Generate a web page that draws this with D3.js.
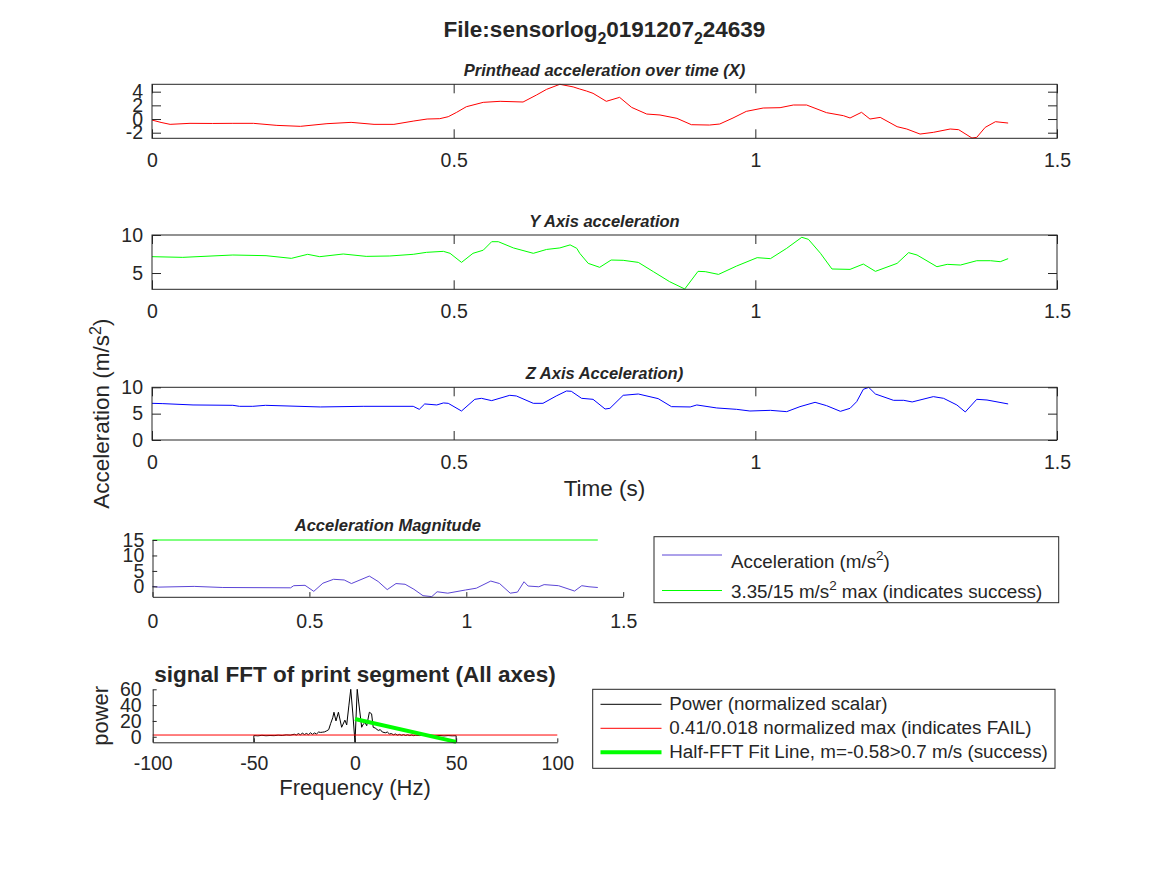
<!DOCTYPE html>
<html><head><meta charset="utf-8">
<script src="https://cdn.jsdelivr.net/npm/d3@7"></script>
<style>
body{margin:0;background:#fff}
svg{display:block}
text{font-family:"Liberation Sans",Arial,Helvetica,sans-serif;fill:#262626}
</style>
</head><body>
<svg id="c" width="1167" height="875"></svg>
<script>
// ---------- DATA ----------
const xTime = [0,0.015,0.03,0.063,0.10,0.134,0.168,0.207,0.246,0.29,0.33,0.368,0.401,0.434,0.456,0.477,0.491,0.505,0.521,0.549,0.577,0.615,0.637,0.654,0.676,0.698,0.709,0.72,0.731,0.753,0.775,0.795,0.82,0.842,0.87,0.894,0.924,0.941,0.963,0.985,1.013,1.041,1.063,1.085,1.118,1.146,1.157,1.176,1.19,1.207,1.235,1.251,1.273,1.295,1.323,1.337,1.359,1.367,1.381,1.398,1.419];
const xAccel = [-0.15,-0.5,-0.78,-0.63,-0.65,-0.63,-0.63,-0.93,-1.07,-0.68,-0.49,-0.78,-0.78,-0.29,0,0.05,0.34,0.98,1.8,2.44,2.59,2.49,3.5,4.34,5.08,4.7,4.39,4.1,3.76,2.59,3.17,1.7,0.73,0.59,0.1,-0.83,-0.88,-0.73,0.15,1.12,1.61,1.66,2.05,2.05,0.93,0.49,0.15,0.98,0,0.24,-1.12,-1.46,-2.2,-1.95,-1.46,-1.56,-2.78,-2.68,-1.22,-0.39,-0.59];

const yTime = [0,0.051,0.134,0.189,0.231,0.258,0.278,0.317,0.355,0.394,0.433,0.455,0.483,0.494,0.513,0.532,0.549,0.563,0.574,0.599,0.632,0.654,0.676,0.693,0.704,0.709,0.723,0.742,0.761,0.781,0.806,0.831,0.858,0.883,0.905,0.917,0.939,0.969,1.003,1.025,1.052,1.077,1.088,1.108,1.127,1.157,1.179,1.199,1.235,1.254,1.268,1.301,1.318,1.340,1.367,1.390,1.406,1.419];
const yAccel = [7.15,7.06,7.37,7.28,6.93,7.46,7.15,7.5,7.19,7.24,7.46,7.72,7.85,7.59,6.4,7.59,8.0,9.12,9.12,8.3,7.59,8.1,8.3,8.7,8.25,7.59,6.27,5.75,6.71,6.67,6.4,5.18,3.86,2.9,5.22,5.18,4.82,5.92,7.02,6.89,8.25,9.7,9.43,7.59,5.53,5.48,6.18,5.22,6.27,7.68,7.37,5.83,6.14,6.05,6.62,6.62,6.49,6.89];

const zTime = [0,0.018,0.068,0.134,0.145,0.167,0.188,0.279,0.35,0.433,0.443,0.452,0.472,0.483,0.491,0.513,0.535,0.546,0.563,0.593,0.604,0.632,0.648,0.670,0.687,0.695,0.712,0.731,0.751,0.759,0.781,0.806,0.839,0.861,0.892,0.903,0.936,0.969,0.991,1.025,1.052,1.074,1.099,1.118,1.141,1.157,1.168,1.179,1.188,1.199,1.229,1.246,1.260,1.295,1.312,1.334,1.348,1.367,1.384,1.419];
const zAccel = [6.96,6.9,6.65,6.58,6.39,6.39,6.58,6.27,6.39,6.39,5.82,6.84,6.65,7.03,6.96,5.5,7.72,7.91,7.47,8.48,8.35,6.96,6.96,8.35,9.3,9.24,7.91,7.72,5.88,6.01,8.48,8.73,7.85,6.33,6.27,6.65,6.08,5.82,5.5,5.63,5.38,6.33,7.15,6.52,5.44,6.01,7.28,9.62,9.98,8.73,7.53,7.53,7.22,8.23,7.91,6.65,5.32,7.72,7.59,6.84];

const magTime = [0,0.019,0.133,0.224,0.44,0.45,0.486,0.514,0.543,0.577,0.611,0.634,0.691,0.719,0.748,0.776,0.805,0.833,0.862,0.89,0.907,0.941,0.998,1.032,1.078,1.106,1.14,1.163,1.184,1.197,1.231,1.248,1.294,1.345,1.368,1.391,1.419];
const magAccel = [0,-0.23,0,-0.35,-0.46,0.23,0.35,-1.6,1.04,2.3,2.08,0.92,3.34,1.6,-1.04,0.92,0.69,-0.92,-3.0,-3.3,-1.73,-2.19,-1.15,-0.58,1.73,0.92,-2.19,-1.85,1.5,0.12,-0.12,0.58,0.23,-1.5,0.23,-0.12,-0.35];
const magLimitTime = [0,1.419];
const magLimit = [15,15];

const fftFreq = [-50,-50,-48,-46,-44,-42,-40,-38,-36,-34,-32,-30,-29,-28,-27,-26,-25,-24,-23,-22,-21,-20,-19,-18,-17,-16,-15,-14,-13,-12,-11,-10.4,-9.4,-8.2,-6.6,-5,-4.1,-3,-2.1,-1.1,0,1.1,1.8,3.3,4.1,4.9,5.8,7.1,8.2,9,10,11.5,12.5,13.5,15,16,17,18,19,20,21,22,23,24,25,26,27,28,29,30,32,34,36,38,40,42,44,46,48,50,50];
const fftPower = [-7,1.5,1.2,1.8,1.3,1.6,1.4,2.0,1.6,2.4,2.0,3.2,2.2,4.0,2.5,4.5,2.8,4.2,2.6,5.0,3.0,4.8,3.5,6.0,5.5,5.8,6.2,7.5,9,17,24,31,20,31,12,21,15,40,60,30,-7,60,44,12,16,18,14,31,29,12,11,8,9,6,5,6,3.5,4,2.5,3.5,2,3,1.8,2.8,1.6,2.5,1.5,2.2,1.4,2.0,1.5,2.0,1.3,1.7,1.2,1.6,1.1,1.5,1.2,1.3,-7];
const thrFreq = [-100,100];
const thrPower = [2.2,2.2];
const fitFreq = [0,50];
const fitPower = [22.5,-6.5];

const timeTicks = [0,0.5,1,1.5];
const xTicksY = [-2,0,2,4];
const yTicksY = [5,10];
const zTicksY = [0,5,10];
const magTicksY = [0,5,10,15];
const fftTicksX = [-100,-50,0,50,100];
const fftTicksY = [0,20,40,60];

// ---------- DRAW ----------
const svg = d3.select("#c");
const FONT = '"Liberation Sans",Arial,Helvetica,sans-serif';
const INK = "#262626";

function styleAxis(sel, size){
  sel.attr("font-family", FONT).attr("font-size", size);
  sel.selectAll("line").attr("stroke", INK);
  sel.selectAll("path").attr("stroke", INK);
  sel.selectAll("text").attr("fill", INK);
}

function panel(o){
  const g = svg.append("g");
  const x = d3.scaleLinear().domain(o.xd).range([o.l, o.r]);
  const y = d3.scaleLinear().domain(o.yd).range([o.b, o.t]);
  o.series.forEach(s => {
    g.append("path").datum(d3.zip(s.x, s.y))
      .attr("fill","none").attr("stroke", s.c).attr("stroke-width", s.w || 1)
      .attr("stroke-linejoin","round")
      .attr("d", d3.line().x(d => x(d[0])).y(d => y(d[1])));
  });
  const fmt = d => String(d);
  const ax = g.append("g").attr("transform", `translate(0,${o.b})`)
    .call(d3.axisBottom(x).tickValues(o.xt).tickSize(-o.tl).tickSizeOuter(0).tickPadding(o.xpad).tickFormat(fmt));
  styleAxis(ax, 19.5);
  const ay = g.append("g").attr("transform", `translate(${o.l},0)`)
    .call(d3.axisLeft(y).tickValues(o.yt).tickSize(-o.tl).tickSizeOuter(0).tickPadding(o.ypad).tickFormat(fmt));
  styleAxis(ay, 19.5);
  if (o.box){
    ax.select(".domain").remove();
    ay.select(".domain").remove();
    const at = g.append("g").attr("transform", `translate(0,${o.t})`)
      .call(d3.axisTop(x).tickValues(o.xt).tickSize(-o.tl).tickSizeOuter(0).tickFormat(""));
    at.select(".domain").remove();
    styleAxis(at, 19.5);
    const ar = g.append("g").attr("transform", `translate(${o.r},0)`)
      .call(d3.axisRight(y).tickValues(o.yt).tickSize(-o.tl).tickSizeOuter(0).tickFormat(""));
    ar.select(".domain").remove();
    styleAxis(ar, 19.5);
    g.append("rect").attr("x", o.l).attr("y", o.t).attr("width", o.r - o.l).attr("height", o.b - o.t)
      .attr("fill","none").attr("stroke", INK).attr("stroke-width", 1);
  }
  if (o.title){
    g.append("text").attr("x", (o.l + o.r) / 2).attr("y", o.titleY)
      .attr("text-anchor","middle").attr("font-weight","bold")
      .attr("font-style", o.titleItalic ? "italic" : "normal")
      .attr("font-size", o.titleSize).text(o.title);
  }
  return {x, y};
}

// Main title with TeX-like subscripts
const mt = svg.append("text").attr("x", 604.5).attr("y", 37).attr("text-anchor","middle")
  .attr("font-weight","bold").attr("font-size", 22.5);
mt.append("tspan").text("File:sensorlog");
mt.append("tspan").attr("dy", 6.5).attr("font-size", 16).text("2");
mt.append("tspan").attr("dy", -6.5).text("0191207");
mt.append("tspan").attr("dy", 6.5).attr("font-size", 16).text("2");
mt.append("tspan").attr("dy", -6.5).text("24639");

// X panel
panel({l:152, r:1057, t:84.3, b:138.3, xd:[0,1.5], yd:[-2.82,5.08], xt:timeTicks, yt:xTicksY,
  tl:9, xpad:14.5, ypad:9, box:true,
  title:"Printhead acceleration over time (X)", titleY:76, titleItalic:true, titleSize:16.5,
  series:[{x:xTime, y:xAccel, c:"#ff0000"}]});

// Y panel
panel({l:152, r:1057, t:235, b:289.3, xd:[0,1.5], yd:[2.86,10], xt:timeTicks, yt:yTicksY,
  tl:9, xpad:14.5, ypad:9, box:true,
  title:"Y Axis acceleration", titleY:227.3, titleItalic:true, titleSize:16.5,
  series:[{x:yTime, y:yAccel, c:"#00ff00"}]});

// Z panel
panel({l:152, r:1057, t:387.3, b:440, xd:[0,1.5], yd:[0,10], xt:timeTicks, yt:zTicksY,
  tl:9, xpad:15, ypad:9, box:true,
  title:"Z Axis Acceleration)", titleY:379, titleItalic:true, titleSize:16.5,
  series:[{x:zTime, y:zAccel, c:"#0000ff"}]});

// Shared labels
svg.append("text").attr("x", 604.5).attr("y", 496).attr("text-anchor","middle").attr("font-size", 22.5).text("Time (s)");
const yl = svg.append("text").attr("transform","translate(109,413.6) rotate(-90)").attr("text-anchor","middle").attr("font-size", 22.5);
yl.append("tspan").text("Acceleration (m/s");
yl.append("tspan").attr("dy", -8.5).attr("font-size", 16).text("2");
yl.append("tspan").attr("dy", 8.5).text(")");

// Magnitude panel
panel({l:152.5, r:623.2, t:540, b:596.8, xd:[0,1.5], yd:[-3.36,15], xt:timeTicks, yt:magTicksY,
  tl:4.7, xpad:17, ypad:8.2, box:false,
  title:"Acceleration Magnitude", titleY:531.4, titleItalic:true, titleSize:16.5,
  series:[{x:magTime, y:magAccel, c:"#5b45d6"},{x:magLimitTime, y:magLimit, c:"#00ff00"}]});

// Legend 1
const lg1 = svg.append("g");
lg1.append("rect").attr("x",654).attr("y",536.7).attr("width",404.7).attr("height",66).attr("fill","#fff").attr("stroke",INK);
lg1.append("line").attr("x1",662).attr("x2",722).attr("y1",555).attr("y2",555).attr("stroke","#5b45d6");
lg1.append("line").attr("x1",662).attr("x2",722).attr("y1",590.5).attr("y2",590.5).attr("stroke","#00ff00");
const t1 = lg1.append("text").attr("x",731).attr("y",567.5).attr("font-size",18.8);
t1.append("tspan").text("Acceleration (m/s");
t1.append("tspan").attr("dy",-7.5).attr("font-size",13.5).text("2");
t1.append("tspan").attr("dy",7.5).text(")");
const t2 = lg1.append("text").attr("x",731).attr("y",597.5).attr("font-size",18.8);
t2.append("tspan").text("3.35/15 m/s");
t2.append("tspan").attr("dy",-7.5).attr("font-size",13.5).text("2");
t2.append("tspan").attr("dy",7.5).text(" max (indicates success)");

// FFT panel
panel({l:152.7, r:557.3, t:689.3, b:742.3, xd:[-100,100], yd:[-7,60], xt:fftTicksX, yt:fftTicksY,
  tl:4, xpad:14, ypad:11, box:false,
  title:"signal FFT of print segment (All axes)", titleY:681.7, titleItalic:false, titleSize:22.5,
  series:[{x:fftFreq, y:fftPower, c:"#000000"},{x:thrFreq, y:thrPower, c:"#ff0000"},{x:fitFreq, y:fitPower, c:"#00ff00", w:4}]});

svg.append("text").attr("x", 355).attr("y", 795).attr("text-anchor","middle").attr("font-size", 22).text("Frequency (Hz)");
svg.append("text").attr("transform","translate(108,715.8) rotate(-90)").attr("text-anchor","middle").attr("font-size", 22).text("power");

// Legend 2
const lg2 = svg.append("g");
lg2.append("rect").attr("x",592.7).attr("y",689.3).attr("width",462.3).attr("height",79).attr("fill","#fff").attr("stroke",INK);
const leg2 = [
  {c:"#000000", w:1, t:"Power (normalized scalar)"},
  {c:"#ff0000", w:1, t:"0.41/0.018 normalized max (indicates FAIL)"},
  {c:"#00ff00", w:4, t:"Half-FFT Fit Line, m=-0.58>0.7 m/s (success)"}
];
leg2.forEach((d,i) => {
  const yy = 704.3 + i*24;
  lg2.append("line").attr("x1",600.5).attr("x2",661.5).attr("y1",yy).attr("y2",yy).attr("stroke",d.c).attr("stroke-width",d.w);
  lg2.append("text").attr("x",669.3).attr("y",yy+6).attr("font-size",18.8).text(d.t);
});
</script>
</body></html>
